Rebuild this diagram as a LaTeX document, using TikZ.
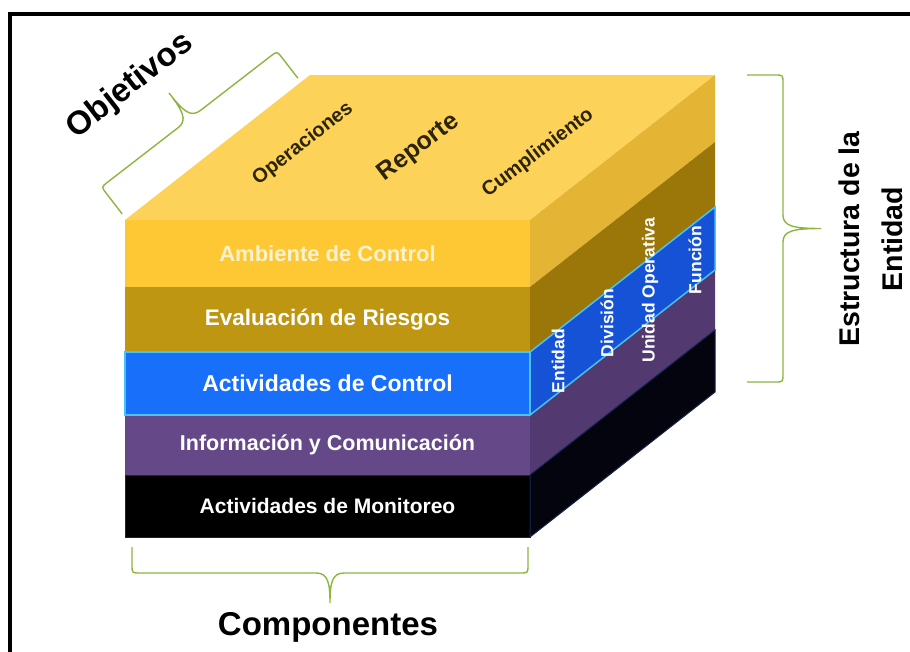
\documentclass[tikz,border=0pt]{standalone}
\usepackage{fontspec}
\setmainfont{Liberation Sans}
\usepackage{tikz}
\usetikzlibrary{positioning}
\definecolor{cubotapa}{RGB}{252,211,88}
\definecolor{cuboamarillo}{RGB}{254,200,52}
\definecolor{cuboamarillo2}{RGB}{228,180,52}
\definecolor{cuboocre}{RGB}{190,150,18}
\definecolor{cuboocre2}{RGB}{155,118,8}
\definecolor{cuboazul}{RGB}{24,112,250}
\definecolor{cuboazul2}{RGB}{22,82,214}
\definecolor{cubocian}{RGB}{70,195,250}
\definecolor{cubomorado}{RGB}{100,72,135}
\definecolor{cubomorado2}{RGB}{82,58,112}
\definecolor{cubonegro}{RGB}{0,0,0}
\definecolor{cubonegro2}{RGB}{4,4,14}
\definecolor{cubomarino}{RGB}{20,35,80}
\definecolor{llaveverde}{RGB}{140,182,62}
\definecolor{textocrema}{RGB}{252,242,205}
\definecolor{textooscuro}{RGB}{45,35,5}
\tikzstyle{capa} = [rectangle, minimum width=405pt, inner sep=0pt, outer sep=0pt, text centered, text=white, font=\bfseries\fontsize{21}{24}\selectfont]
\tikzstyle{objetivo} = [text=textooscuro, inner sep=0pt, font=\bfseries\fontsize{20}{24}\selectfont]
\tikzstyle{estructura} = [rotate=90, text=white, inner sep=0pt, font=\bfseries\fontsize{17.5}{20}\selectfont]
\tikzstyle{titulo} = [text=black, inner sep=0pt, font=\bfseries\fontsize{33}{38}\selectfont]
\tikzstyle{llave} = [draw=llaveverde, line width=1.4pt]

\begin{document}
\begin{tikzpicture}[x=1pt, y=-1pt]
\useasboundingbox (0,0) rectangle (910,651);
\draw[line width=4pt] (10,14) rectangle (940,680);

% Componentes (cara frontal)
\node (ambiente) [capa, minimum height=67pt, fill=cuboamarillo, text=textocrema, font=\bfseries\fontsize{22}{24}\selectfont] at (327.5,253.5) {Ambiente de Control};
\node (evaluacion) [capa, minimum height=65pt, fill=cuboocre, font=\bfseries\fontsize{22.5}{24}\selectfont] at (327.5,319.5) {Evaluación de Riesgos};
\node (informacion) [capa, minimum height=60pt, fill=cubomorado, font=\bfseries\fontsize{21.5}{24}\selectfont] at (327.5,445) {Información y Comunicación};
\node (monitoreo) [capa, minimum height=62pt, fill=cubonegro, draw=cubomarino, line width=1pt] at (327.5,506) {Actividades de Monitoreo};
\node (actividades) [capa, minimum height=63pt, fill=cuboazul, draw=cubocian, line width=1.5pt, font=\bfseries\fontsize{23}{24}\selectfont] at (327.5,383.5) {Actividades de Control};

% Cara superior y cara lateral
\fill[cubotapa] (ambiente.north west) -- ++(185,-145) -- ++(405,0) -- (ambiente.north east) -- cycle;
\foreach \capa/\tono in {ambiente/cuboamarillo2, evaluacion/cuboocre2, actividades/cuboazul2, informacion/cubomorado2, monitoreo/cubonegro2}
  \fill[\tono] (\capa.north east) -- ++(185,-145) -- ([shift={(185,-145)}]\capa.south east) -- (\capa.south east) -- cycle;
\draw[cubomarino, line width=1pt] (monitoreo.north east) -- ++(185,-145) -- ([shift={(185,-145)}]monitoreo.south east) -- (monitoreo.south east) -- cycle;
\draw[cubocian, line width=1.5pt] (actividades.north east) -- ++(185,-145) -- ([shift={(185,-145)}]actividades.south east) -- (actividades.south east) -- cycle;

% Objetivos
\node (operaciones) [objetivo, rotate=38] at (303,144) {Operaciones};
\node (reporte) [objetivo, rotate=37, font=\bfseries\fontsize{25}{30}\selectfont] at (419,148) {Reporte};
\node (cumplimiento) [objetivo, rotate=37] at (538,153) {Cumplimiento};

% Estructura de la entidad
\node (entidad) [estructura] at (558,361) {Entidad};
\node (division) [estructura] at (607,323) {División};
\node (unidad) [estructura] at (650,290) {Unidad Operativa};
\node (funcion) [estructura] at (695,260) {Función};

% Titulos
\node (objetivos) [titulo, rotate=38] at (130,86) {Objetivos};
\node (componentes) [titulo, anchor=base] at (328,635) {Componentes};
\node (estructuraent) [titulo, rotate=90, align=center, font=\bfseries\fontsize{28.5}{43}\selectfont] at (871,239) {Estructura de la\\Entidad};

% Llaves
\draw[llave] (132,547) -- (132,565) .. controls (132,573) .. (140,573) -- (316,573) .. controls (328,573) and (330,583) .. (330,603) .. controls (330,583) and (332,573) .. (344,573) -- (520,573) .. controls (528,573) .. (528,565) -- (528,547);
\draw[llave] (747,75) -- (775,75) .. controls (783,75) .. (783,83) -- (783,215) .. controls (783,226) and (793,228.5) .. (821,228.5) .. controls (793,228.5) and (783,231) .. (783,242) -- (783,374) .. controls (783,382) .. (775,382) -- (747,382);
\begin{scope}[shift={(210,146)}, rotate=37.7]
\draw[llave] (-111,0) -- (-111,-26) .. controls (-111,-34) .. (-103,-34) -- (-14,-34) .. controls (-2,-34) and (0,-44) .. (0,-67) .. controls (0,-44) and (2,-34) .. (14,-34) -- (103,-34) .. controls (111,-34) .. (111,-26) -- (111,0);
\end{scope}
\end{tikzpicture}
\end{document}
